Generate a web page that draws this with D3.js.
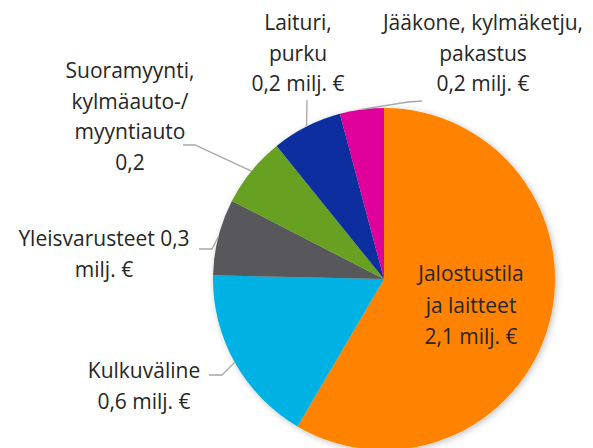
<!DOCTYPE html>
<html lang="fi">
  <head>
    <meta charset="UTF-8" />
    <title>Investoinnit</title>
    <script src="https://d3js.org/d3.v7.min.js"></script>
    <style>
      body { margin: 0; background: #fff; }
      .label { font-family: "Open Sans", "Noto Sans", sans-serif; font-size: 21px; fill: #262626; }
      .leader { fill: none; stroke: #a6a6a6; stroke-width: 1.3px; }
    </style>
  </head>
  <body>
    <svg width="593" height="448"></svg>
    <script>
      // data (milj. €), order clockwise from 12 o'clock
      const categories = ["Jalostustila ja laitteet", "Kulkuväline", "Yleisvarusteet",
        "Suoramyynti, kylmäauto-/myyntiauto", "Laituri, purku", "Jääkone, kylmäketju, pakastus"];
      const values = [2.11, 0.61, 0.26, 0.24, 0.24, 0.15];
      const colors = ["#ff8300", "#00b2e3", "#58595b", "#67a121", "#0a2f9e", "#e0069b"];
      const labelLines = [
        ["Jalostustila", "ja laitteet", "2,1 milj. €"],
        ["Kulkuväline", "0,6 milj. €"],
        ["Yleisvarusteet 0,3", "milj. €"],
        ["Suoramyynti,", "kylmäauto-/", "myyntiauto", "0,2"],
        ["Laituri,", "purku", "0,2 milj. €"],
        ["Jääkone, kylmäketju,", "pakastus", "0,2 milj. €"]
      ];

      // label placement (x center, first baseline, leader start + elbow)
      const layout = [
        { x: 471, y: 281, lh: 31.5, leader: null },
        { x: 144, y: 378, lh: 31, leader: [[209, 375], [222, 375]] },
        { x: 104, y: 246, lh: 31, leader: [[199, 249], [212, 249]] },
        { x: 130, y: 78, lh: 30.5, leader: [[183, 145], [195, 145]] },
        { x: 298, y: 30, lh: 30.5, leader: [[307, 100], [307, 101]] },
        { x: 483, y: 30, lh: 30.5, leader: [[422, 101], [408, 102]] }
      ];

      const cx = 384, cy = 279, r = 171;
      const svg = d3.select("svg");

      const defs = svg.append("defs");
      const f = defs.append("filter").attr("id", "shadow")
        .attr("x", "-10%").attr("y", "-10%").attr("width", "120%").attr("height", "120%");
      f.append("feDropShadow").attr("dx", 1.5).attr("dy", 1.5)
        .attr("stdDeviation", 3).attr("flood-color", "#000").attr("flood-opacity", 0.25);

      const pie = d3.pie().sort(null).value(d => d)(values);
      const arc = d3.arc().innerRadius(0).outerRadius(r);

      const g = svg.append("g").attr("transform", `translate(${cx},${cy})`);
      g.append("g").attr("filter", "url(#shadow)")
        .selectAll("path").data(pie).join("path")
        .attr("d", arc)
        .attr("fill", (d, i) => colors[i]);

      // leader lines to arc midpoint on the rim
      pie.forEach((d, i) => {
        const L = layout[i];
        if (!L.leader) return;
        const a = (d.startAngle + d.endAngle) / 2;
        const ex = cx + r * Math.sin(a), ey = cy - r * Math.cos(a);
        svg.append("polyline").attr("class", "leader")
          .attr("points", [...L.leader, [ex, ey]].map(p => p.join(",")).join(" "));
      });

      labelLines.forEach((lines, i) => {
        const L = layout[i];
        const t = svg.append("text").attr("class", "label").attr("text-anchor", "middle");
        lines.forEach((s, j) => {
          t.append("tspan").attr("x", L.x).attr("y", L.y + j * L.lh).text(s);
        });
      });
    </script>
  </body>
</html>
